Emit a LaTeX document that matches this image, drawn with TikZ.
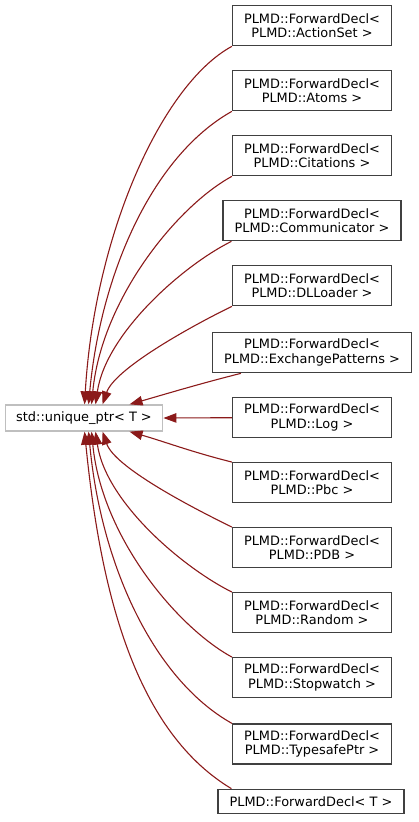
\documentclass[tikz,border=0pt]{standalone}
\usepackage{fontspec}
\usepackage{tikz}
\usetikzlibrary{arrows.meta, positioning, calc}

\newfontfamily\dvsans{DejaVu Sans}
\definecolor{edgered}{HTML}{8B1A1A}
\definecolor{boxgray}{HTML}{404040}
\definecolor{basegray}{HTML}{BFBFBF}

\tikzset{
    cls/.style={draw=boxgray, fill=white, line width=1.3pt, align=center,
        font=\dvsans\fontsize{12.9}{14.6}\selectfont,
        inner xsep=11.5pt, inner ysep=2pt, minimum height=40pt},
    clsone/.style={cls, minimum height=24pt},
    base/.style={cls, draw=basegray, minimum height=26pt, inner xsep=11pt},
    inh/.style={draw=edgered, line width=1.1pt,
        -{Triangle[length=13pt, width=9.5pt]}}
}

\begin{document}
\begin{tikzpicture}[x=1pt, y=-1pt]
        \useasboundingbox (0,0) rectangle (419,822);

        % Base class
        \node[base] (uptr) at (84, 418) {std::unique\_ptr< T >};

        % Derived classes
        \node[cls] (aset) at (312, 25.7) {PLMD::ForwardDecl<\\PLMD::ActionSet >};
        \node[cls] (atoms) at (312, 90.7) {PLMD::ForwardDecl<\\PLMD::Atoms >};
        \node[cls] (cit) at (312, 155.7) {PLMD::ForwardDecl<\\PLMD::Citations >};
        \node[cls] (comm) at (312, 220.7) {PLMD::ForwardDecl<\\PLMD::Communicator >};
        \node[cls] (dll) at (312, 285.7) {PLMD::ForwardDecl<\\PLMD::DLLoader >};
        \node[cls] (exch) at (312, 352.7) {PLMD::ForwardDecl<\\PLMD::ExchangePatterns >};
        \node[cls] (log) at (312, 417.7) {PLMD::ForwardDecl<\\PLMD::Log >};
        \node[cls] (pbc) at (312, 482.7) {PLMD::ForwardDecl<\\PLMD::Pbc >};
        \node[cls] (pdb) at (312, 547.7) {PLMD::ForwardDecl<\\PLMD::PDB >};
        \node[cls] (rnd) at (312, 612.7) {PLMD::ForwardDecl<\\PLMD::Random >};
        \node[cls] (stw) at (312, 677.7) {PLMD::ForwardDecl<\\PLMD::Stopwatch >};
        \node[cls] (tsp) at (312, 744) {PLMD::ForwardDecl<\\PLMD::TypesafePtr >};
        \node[clsone] (fwd) at (311, 801.3) {PLMD::ForwardDecl< T >};

        % Upper edges
        \draw[inh] (aset.south west) .. controls +(-70,38) and +(10,-170) .. ([xshift=80pt]uptr.north west);
        \draw[inh] (atoms.south west) .. controls +(-80,45) and +(12,-130) .. ([xshift=84pt]uptr.north west);
        \draw[inh] (cit.south west) .. controls +(-55,30) and +(10,-105) .. ([xshift=87pt]uptr.north west);
        \draw[inh] ([xshift=9pt]comm.south west) .. controls +(-50,25) and +(10,-70) .. ([xshift=91pt]uptr.north west);
        \draw[inh] (dll.south west) .. controls +(-45,22) and +(12,-35) .. ([xshift=98pt]uptr.north west);
        \draw[inh] ([xshift=29pt]exch.south west) .. controls +(-40,10) and +(35,-10) .. ([xshift=125pt]uptr.north west);

        % Middle edge
        \draw[inh] (log.west) -- (uptr.east);

        % Lower edges
        \draw[inh] (pbc.north west) .. controls +(-40,-10) and +(35,10) .. ([xshift=125pt]uptr.south west);
        \draw[inh] (pdb.north west) .. controls +(-45,-22) and +(12,35) .. ([xshift=98pt]uptr.south west);
        \draw[inh] (rnd.north west) .. controls +(-50,-25) and +(10,70) .. ([xshift=91pt]uptr.south west);
        \draw[inh] (stw.north west) .. controls +(-55,-30) and +(10,105) .. ([xshift=87pt]uptr.south west);
        \draw[inh] (tsp.north west) .. controls +(-80,-45) and +(12,130) .. ([xshift=84pt]uptr.south west);
        \draw[inh] ([xshift=14pt]fwd.north west) .. controls +(-100,-60) and +(15,150) .. ([xshift=80pt]uptr.south west);

\end{tikzpicture}
\end{document}
